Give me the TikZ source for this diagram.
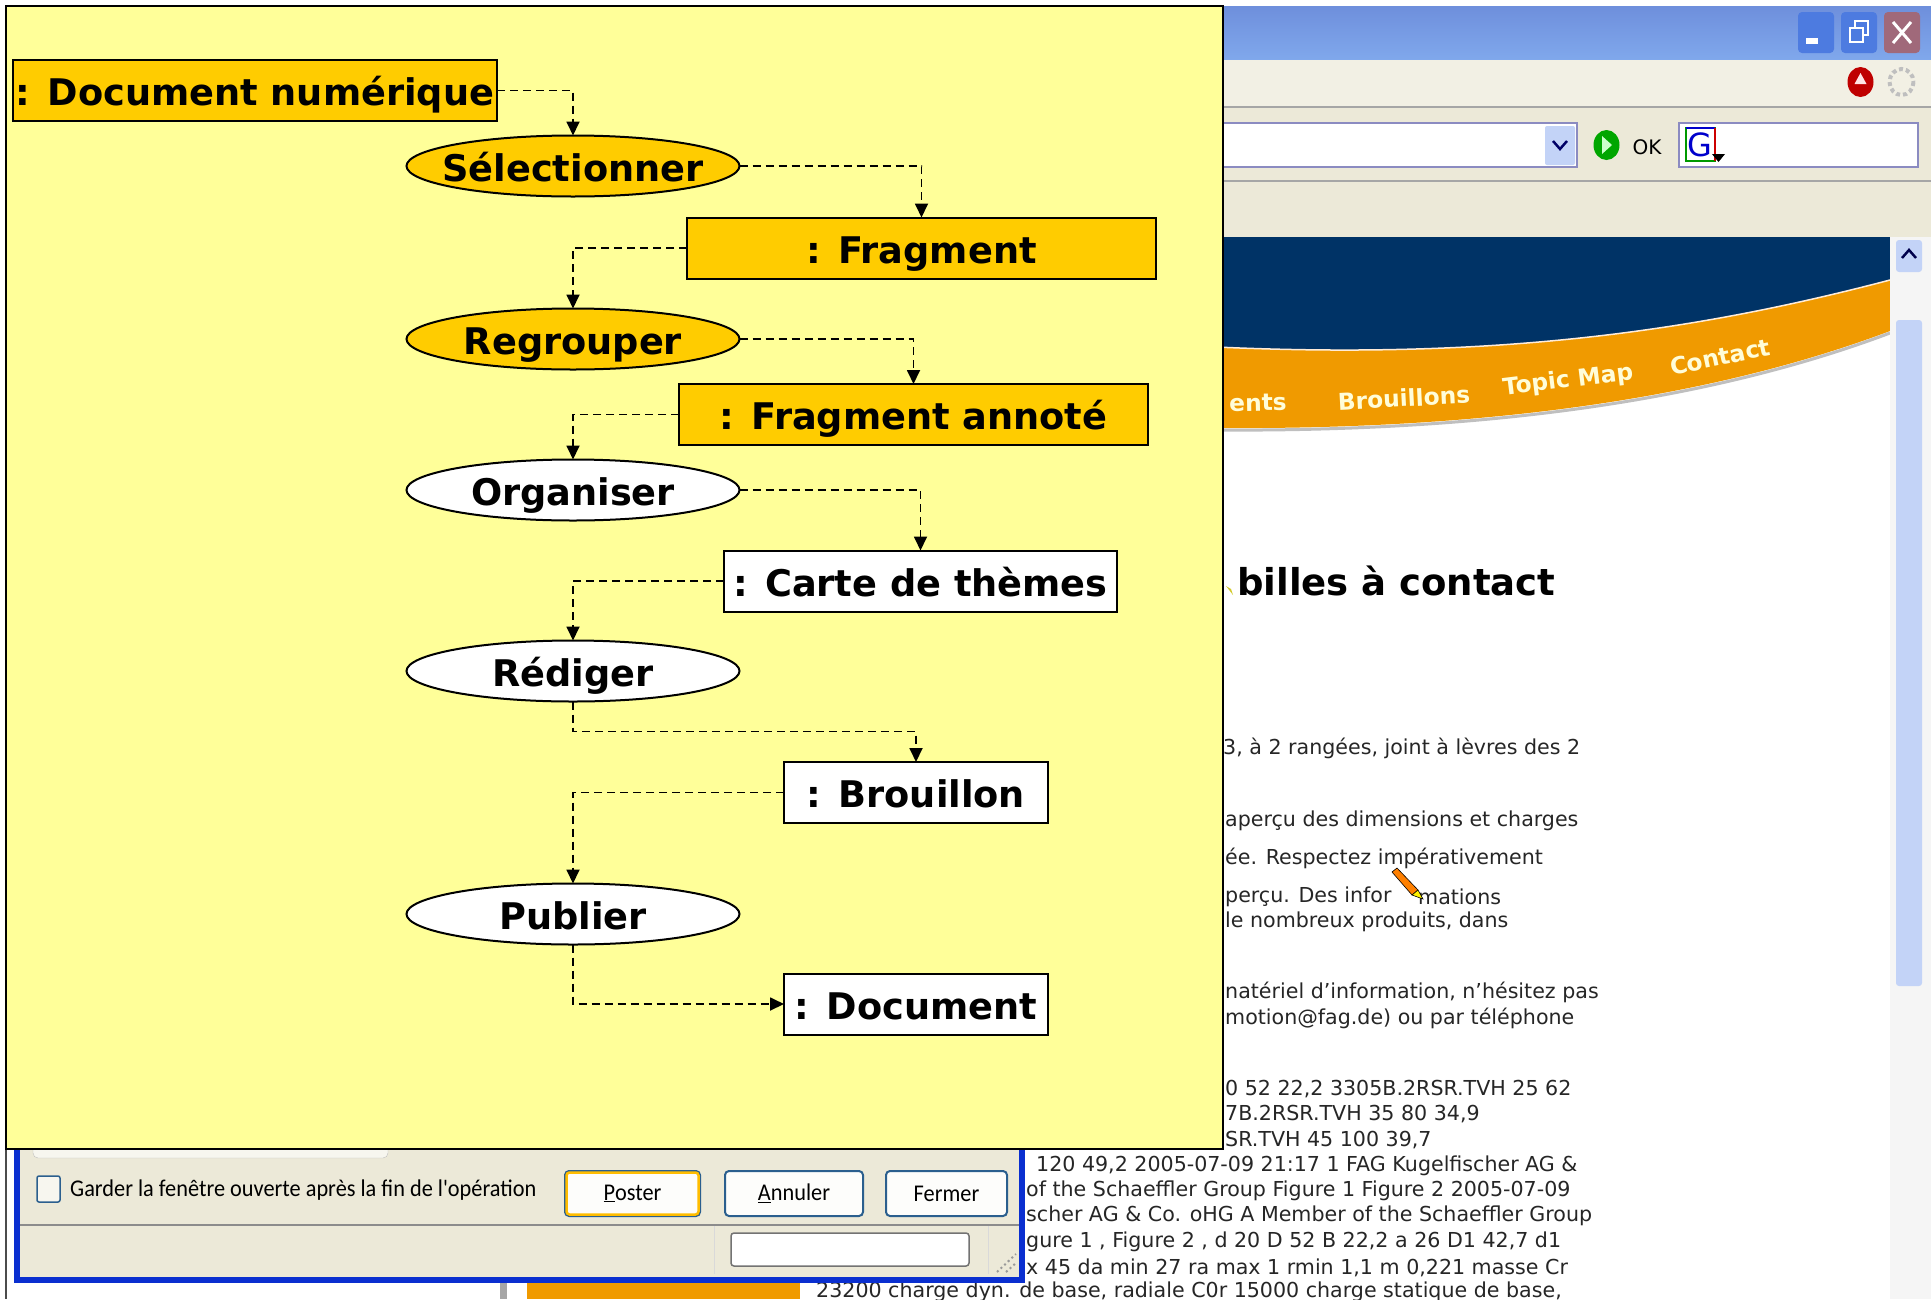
\documentclass[tikz,border=0pt]{standalone}
\usepackage{fontspec}
\setmainfont{DejaVu Sans}
\newfontfamily\dlgfont[FakeStretch=0.93]{Carlito}
\usetikzlibrary{arrows.meta,shapes.geometric}
\definecolor{panelyellow}{HTML}{FFFF99}
\definecolor{activeorange}{HTML}{FFCC00}
\definecolor{xpbeige}{HTML}{ECE9D8}
\definecolor{navy}{HTML}{003366}
\definecolor{bandorange}{HTML}{F09A00}
\definecolor{xpblue}{HTML}{0A2FD0}
\definecolor{scrollblue}{HTML}{C3D3F7}
\definecolor{titletop}{HTML}{6E8FDC}
\definecolor{titlebottom}{HTML}{80A8EC}
\definecolor{winbutton}{HTML}{4D7BE0}
\definecolor{winclose}{HTML}{A0697A}
\definecolor{btnborder}{HTML}{2B5F8E}

\begin{document}
\begin{tikzpicture}[x=1pt,y=-1pt]
\tikzstyle{object} = [rectangle, draw=black, line width=2pt, inner sep=0pt, outer sep=0pt,
minimum height=61pt, font=\fontsize{36.7}{40}\selectfont\bfseries, text height=30pt, text depth=0pt]
\tikzstyle{action} = [ellipse, draw=black, line width=2pt, inner ysep=0pt, inner xsep=-40pt, outer sep=0pt,
minimum width=333pt, minimum height=61pt, font=\fontsize{36.7}{40}\selectfont\bfseries, text height=30pt, text depth=0pt]
\tikzstyle{pagetext} = [anchor=west, inner sep=0pt, yshift=-2.5pt, text=black!85, font=\fontsize{20.6}{23}\selectfont]
\tikzstyle{bandtext} = [inner sep=0pt, text=yellow!15!white, font=\fontsize{23.3}{25}\selectfont\bfseries]
\tikzstyle{xpbutton} = [rectangle, rounded corners=4pt, draw=btnborder, line width=2pt, fill=white!90!xpbeige,
minimum height=45pt, inner sep=0pt, font=\dlgfont\fontsize{24}{26}\selectfont]
\useasboundingbox (0,0) rectangle (1931,1299);
\fill[white] (0,0) rectangle (1931,1299);

% browser window
\shade[top color=titletop, bottom color=titlebottom] (1216,6) rectangle (1931,60);
\fill[xpbeige!70!white] (1216,60) rectangle (1931,106);
\fill[xpbeige] (1216,106) rectangle (1931,237);
\draw[gray!70, line width=1.5pt] (1216,107) -- (1931,107);
\draw[gray!70, line width=1.5pt] (1216,181) -- (1931,181);
\draw[black!60, line width=1pt] (1216,237) -- (1931,237);
\fill[winbutton, rounded corners=4pt] (1798,12) rectangle (1834,53);
\fill[white] (1806,38) rectangle (1818,44);
\fill[winbutton, rounded corners=4pt] (1841,12) rectangle (1877,53);
\draw[white, line width=1.5pt] (1850,28) rectangle (1863,42) (1855,28) -- (1855,21) -- (1868,21) -- (1868,35) -- (1863,35);
\fill[winclose, rounded corners=4pt] (1884,12) rectangle (1920,53);
\draw[white, line width=3pt] (1893,22) -- (1911,43) (1911,22) -- (1893,43);
\fill[red!75!black] (1860.5,82) ellipse (13 and 15);
\fill[white!90!red] (1860.5,73) -- (1866.5,84) -- (1854.5,84) -- cycle;
\draw[gray!50, line width=4pt, dash pattern=on 4pt off 3pt] (1901.5,82) ellipse (12 and 13);
% address bar and search field
\draw[blue!30!gray!70, line width=1.5pt, fill=white] (1216,123) rectangle (1577,167);
\fill[scrollblue, rounded corners=2pt] (1545,126) rectangle (1575,165);
\draw[blue!40!black, line width=2.5pt] (1553,141) -- (1560,149) -- (1567,141);
\fill[green!65!black] (1606.5,145) ellipse (13 and 15);
\fill[white!80!green] (1602,136) -- (1612,145) -- (1602,154) -- cycle;
\node[inner sep=0pt, font=\fontsize{20}{22}\selectfont] (oklabel) at (1647,147) {OK};
\draw[blue!30!gray!70, line width=1.5pt, fill=white] (1679,123) rectangle (1918,167);
\draw[green!60!black, line width=1.5pt] (1686,128) rectangle (1715,161);
\draw[blue!80!black, line width=1.5pt] (1686,128) -- (1715,128);
\draw[red!80!black, line width=1.5pt] (1715,128) -- (1715,161);
\node[inner sep=0pt, text=blue!80!black, font=\fontsize{32}{34}\selectfont] (searchlogo) at (1700,145) {G};
\fill[black] (1712,154) -- (1725,154) -- (1718.5,162) -- cycle;

% page banner
\fill[navy] (1216,237) -- (1890,237) -- (1890,280) .. controls (1700,330) and (1500,360) .. (1216,347) -- cycle;
\fill[bandorange] (1216,347) .. controls (1500,360) and (1700,330) .. (1890,280)
-- (1890,331) .. controls (1720,395) and (1500,430) .. (1216,428) -- cycle;
\draw[white!85!orange, line width=1.5pt] (1216,347) .. controls (1500,360) and (1700,330) .. (1890,280);
\draw[gray, opacity=.5, line width=3pt] (1890,333) .. controls (1720,397) and (1500,432) .. (1216,430);
\node[bandtext, rotate=1] (tabdocs) at (1258,403) {ents};
\node[bandtext, rotate=3] (tabdrafts) at (1404,398) {Brouillons};
\node[bandtext, rotate=7] (tabmap) at (1568,381) {Topic Map};
\node[bandtext, rotate=12] (tabcontact) at (1720,357) {Contact};

% scrollbar
\fill[black!4] (1890,237) rectangle (1931,1299);
\fill[scrollblue, rounded corners=3pt] (1896,240) rectangle (1922,272);
\draw[blue!30!black, line width=2.5pt] (1902,258) -- (1909,250) -- (1916,258);
\fill[scrollblue, rounded corners=3pt] (1896,320) rectangle (1922,986);

% page text
\node[anchor=west, inner sep=0pt, font=\fontsize{37}{40}\selectfont\bfseries] (pagetitle) at (1237,581) {billes à contact};
\node[pagetext] (line1) at (1223,746) {3, à 2 rangées, joint à lèvres des 2};
\node[pagetext] (line2) at (1225,818) {aperçu des dimensions et charges};
\node[pagetext] (line3) at (1225,856) {ée. Respectez impérativement};
\node[pagetext] (line4) at (1225,894) {perçu. Des infor};
\node[pagetext] (line4b) at (1418,894) {mations};
\node[pagetext] (line5) at (1225,919) {le nombreux produits, dans};
\node[pagetext] (line6) at (1225,990) {natériel d'information, n'hésitez pas};
\node[pagetext] (line7) at (1225,1016) {motion@fag.de) ou par téléphone};
\node[pagetext] (line8) at (1225,1087) {0 52 22,2 3305B.2RSR.TVH 25 62};
\node[pagetext] (line9) at (1225,1112) {7B.2RSR.TVH 35 80 34,9};
\node[pagetext] (line10) at (1225,1138) {SR.TVH 45 100 39,7};
\node[pagetext] (line11) at (1036,1163) {120 49,2 2005-07-09 21:17 1 FAG Kugelfischer AG \&};
\node[pagetext] (line12) at (1026,1188) {of the Schaeffler Group Figure 1 Figure 2 2005-07-09};
\node[pagetext] (line13) at (1026,1213) {scher AG \& Co. oHG A Member of the Schaeffler Group};
\node[pagetext] (line14) at (1026,1239) {gure 1 , Figure 2 , d 20 D 52 B 22,2 a 26 D1 42,7 d1};
\node[pagetext] (line15) at (1026,1265) {x 45 da min 27 ra max 1 rmin 1,1 m 0,221 masse Cr};
\node[pagetext] (line16) at (816,1289) {23200 charge dyn. de base, radiale C0r 15000 charge statique de base,};
% pencil
\fill[orange, draw=black, line width=.6pt] (1392,872) -- (1397,868) -- (1418,890) -- (1412,895) -- cycle;
\fill[yellow, draw=black, line width=.6pt] (1412,895) -- (1418,890) -- (1423,899) -- cycle;
\fill[yellow!80!black] (1226,586) -- (1231,589) -- (1233,595) -- cycle;

% lower left corner
\draw[black!70, line width=1.5pt] (6,1148) -- (6,1299);
\fill[gray!70] (500,1283) rectangle (507,1299);
\fill[bandorange] (527,1283) rectangle (800,1299);

% dialog
\fill[xpbeige] (14,1148) rectangle (1025,1283);
\draw[xpblue, line width=6pt] (17,1148) -- (17,1280) -- (1022,1280) -- (1022,1148);
\draw[black!25, fill=white!60!xpbeige, rounded corners=5pt] (33,1140) rectangle (388,1158);
\draw[btnborder, line width=1.5pt, fill=white!60!xpbeige, rounded corners=2pt] (37,1176) rectangle (60,1202);
\node[anchor=west, inner sep=0pt, font=\dlgfont\fontsize{24}{26}\selectfont] (keepopen) at (70,1190) {Garder la fenêtre ouverte après la fin de l'opération};
\node[xpbutton, minimum width=135pt] (poster) at (632.5,1193.5) {\underline{P}oster};
\draw[activeorange!80!orange, line width=2.5pt, rounded corners=3pt] ([shift={(2.5pt,2.5pt)}]poster.south west) rectangle ([shift={(-2.5pt,-2.5pt)}]poster.north east);
\node[xpbutton, minimum width=138pt] (annuler) at (794,1193.5) {\underline{A}nnuler};
\node[xpbutton, minimum width=121pt] (fermer) at (946.5,1193.5) {Fermer};
\draw[black!45, line width=1.5pt] (20,1225) -- (1019,1225);
\draw[black!15, line width=1pt] (714,1226) -- (714,1274) (988,1226) -- (988,1274);
\draw[black!55, line width=1.5pt, fill=white, rounded corners=3pt] (731,1233) rectangle (969,1266);
\draw[black!40, line width=2pt, dash pattern=on 2pt off 3pt] (997,1272) -- (1016,1254) (1006,1272) -- (1016,1263);

% diagram panel
\fill[panelyellow, draw=black, line width=1.5pt] (6,6) rectangle (1223,1149);
% row 1
\node [object, fill=activeorange, minimum width=484pt] (docnum) at (255,90.5) {: Document numérique};
\node [action, fill=activeorange] (selectionner) at (573,166) {Sélectionner};
\node [object, fill=activeorange, minimum width=469pt] (fragment) at (921.5,248) {: Fragment};
% row 2
\node [action, fill=activeorange] (regrouper) at (573,339) {Regrouper};
\node [object, fill=activeorange, minimum width=469pt] (annote) at (913.5,414.5) {: Fragment annoté};
% row 3
\node [action, fill=white] (organiser) at (573,490) {Organiser};
\node [object, fill=white, minimum width=393pt] (carte) at (920.5,581) {: Carte de thèmes};
% row 4
\node [action, fill=white] (rediger) at (573,671) {Rédiger};
\node [object, fill=white, minimum width=264pt] (brouillon) at (916,792.5) {: Brouillon};
% row 5
\node [action, fill=white] (publier) at (573,914) {Publier};
\node [object, fill=white, minimum width=264pt] (document) at (916,1004) {: Document};

\tikzstyle{line} = [draw, line width=1.8pt, dash pattern=on 8pt off 5pt, -{Triangle[length=14pt,width=13pt]}];
\tikzstyle{every path}=[line]
\path (docnum.east) -| (selectionner.north);
\path (selectionner.east) -| (fragment.north);
\path (fragment.west) -| (regrouper.north);
\path (regrouper.east) -| (annote.north);
\path (annote.west) -| (organiser.north);
\path (organiser.east) -| (carte.north);
\path (carte.west) -| (rediger.north);
\path (rediger.south) -- ++(0,30) -| (brouillon.north);
\path (brouillon.west) -| (publier.north);
\path (publier.south) |- (document.west);
\end{tikzpicture}
\end{document}
